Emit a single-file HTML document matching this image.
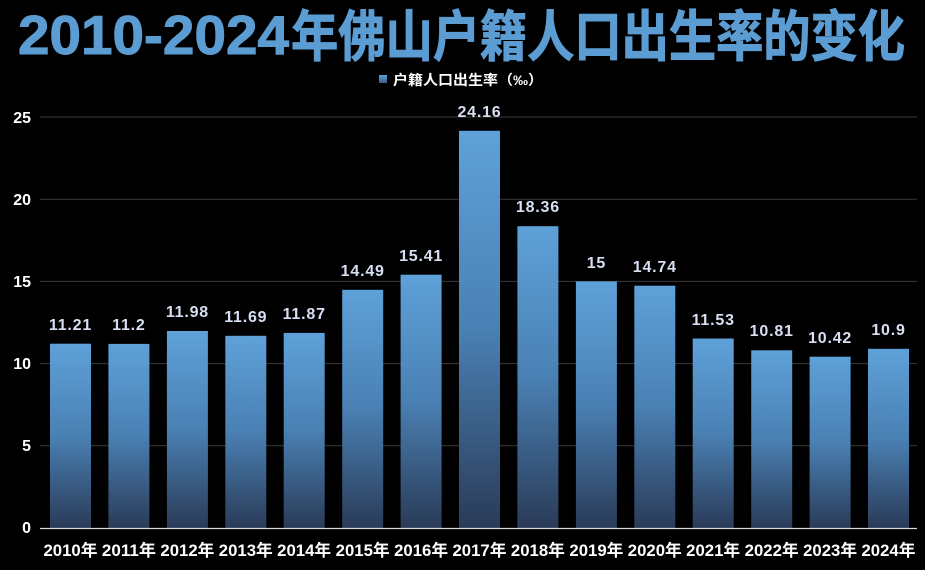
<!DOCTYPE html>
<html>
<head>
<meta charset="utf-8">
<style>
  html, body { margin: 0; padding: 0; background: #000; }
  body { width: 925px; height: 570px; overflow: hidden; }
  svg { display: block; }
  .t { font-family: "Liberation Sans", "Noto Sans CJK SC", sans-serif; font-weight: bold; }
</style>
</head>
<body>
<svg width="925" height="570" viewBox="0 0 925 570" xmlns="http://www.w3.org/2000/svg">
  <defs>
    <linearGradient id="bar" x1="0" y1="0" x2="0" y2="1">
      <stop offset="0" stop-color="#5ea1d8"/>
      <stop offset="0.5" stop-color="#4a80b3"/>
      <stop offset="1" stop-color="#2a3b58"/>
    </linearGradient>
    <linearGradient id="leg" x1="0" y1="0" x2="0" y2="1">
      <stop offset="0" stop-color="#5c9fd6"/>
      <stop offset="1" stop-color="#3a5f8a"/>
    </linearGradient>
  </defs>
  <rect width="925" height="570" fill="#000"/>

  <!-- Title -->
  <g class="t" font-size="55" fill="#5b9dd3" stroke="#5b9dd3" stroke-width="1">
    <text x="18" y="54" textLength="271" lengthAdjust="spacingAndGlyphs">2010-2024</text>
    <text x="291" y="56" textLength="614" lengthAdjust="spacingAndGlyphs">年佛山户籍人口出生率的变化</text>
  </g>

  <!-- Legend -->
  <rect x="379" y="75" width="8" height="8" fill="url(#leg)"/>
  <text class="t" x="393" y="85" font-size="14" fill="#ffffff" textLength="150" lengthAdjust="spacingAndGlyphs">户籍人口出生率（‰）</text>

  <!-- Gridlines -->
  <g stroke="#3a3a3a" stroke-width="1">
    <line x1="40" y1="445.8" x2="917" y2="445.8"/>
    <line x1="40" y1="363.6" x2="917" y2="363.6"/>
    <line x1="40" y1="281.4" x2="917" y2="281.4"/>
    <line x1="40" y1="199.2" x2="917" y2="199.2"/>
    <line x1="40" y1="117" x2="917" y2="117"/>
  </g>

  <!-- Y labels -->
  <g class="t" font-size="16" fill="#ffffff" text-anchor="end">
    <text x="31" y="533">0</text>
    <text x="31" y="451">5</text>
    <text x="31" y="369">10</text>
    <text x="31" y="287">15</text>
    <text x="31" y="205">20</text>
    <text x="31" y="123">25</text>
  </g>

  <!-- Bars -->
  <g fill="url(#bar)">
    <rect x="50.0" y="343.7" width="41" height="184.3"/>
    <rect x="108.4" y="343.9" width="41" height="184.1"/>
    <rect x="166.9" y="331.0" width="41" height="197.0"/>
    <rect x="225.3" y="335.8" width="41" height="192.2"/>
    <rect x="283.7" y="332.9" width="41" height="195.1"/>
    <rect x="342.2" y="289.8" width="41" height="238.2"/>
    <rect x="400.6" y="274.7" width="41" height="253.3"/>
    <rect x="459.0" y="130.8" width="41" height="397.2"/>
    <rect x="517.4" y="226.2" width="41" height="301.8"/>
    <rect x="575.9" y="281.4" width="41" height="246.6"/>
    <rect x="634.3" y="285.7" width="41" height="242.3"/>
    <rect x="692.7" y="338.5" width="41" height="189.5"/>
    <rect x="751.2" y="350.3" width="41" height="177.7"/>
    <rect x="809.6" y="356.7" width="41" height="171.3"/>
    <rect x="868.0" y="348.8" width="41" height="179.2"/>
  </g>

  <!-- Axis line -->
  <line x1="40" y1="528.5" x2="917" y2="528.5" stroke="#d8d8d8" stroke-width="1.2"/>

  <!-- Value labels -->
  <g class="t" font-size="16" fill="#d8dff3" text-anchor="middle" letter-spacing="0.8">
    <text x="70.5" y="330">11.21</text>
    <text x="128.9" y="330">11.2</text>
    <text x="187.4" y="317">11.98</text>
    <text x="245.8" y="322">11.69</text>
    <text x="304.2" y="319">11.87</text>
    <text x="362.7" y="276">14.49</text>
    <text x="421.1" y="261">15.41</text>
    <text x="479.5" y="117">24.16</text>
    <text x="537.9" y="212">18.36</text>
    <text x="596.4" y="268">15</text>
    <text x="654.8" y="272">14.74</text>
    <text x="713.2" y="325">11.53</text>
    <text x="771.7" y="336">10.81</text>
    <text x="830.1" y="343">10.42</text>
    <text x="888.5" y="335">10.9</text>
  </g>

  <!-- X labels -->
  <g class="t" font-size="16.5" fill="#ffffff">
    <text x="43.5" y="556" textLength="54" lengthAdjust="spacingAndGlyphs">2010年</text>
    <text x="101.9" y="556" textLength="54" lengthAdjust="spacingAndGlyphs">2011年</text>
    <text x="160.4" y="556" textLength="54" lengthAdjust="spacingAndGlyphs">2012年</text>
    <text x="218.8" y="556" textLength="54" lengthAdjust="spacingAndGlyphs">2013年</text>
    <text x="277.2" y="556" textLength="54" lengthAdjust="spacingAndGlyphs">2014年</text>
    <text x="335.7" y="556" textLength="54" lengthAdjust="spacingAndGlyphs">2015年</text>
    <text x="394.1" y="556" textLength="54" lengthAdjust="spacingAndGlyphs">2016年</text>
    <text x="452.5" y="556" textLength="54" lengthAdjust="spacingAndGlyphs">2017年</text>
    <text x="510.9" y="556" textLength="54" lengthAdjust="spacingAndGlyphs">2018年</text>
    <text x="569.4" y="556" textLength="54" lengthAdjust="spacingAndGlyphs">2019年</text>
    <text x="627.8" y="556" textLength="54" lengthAdjust="spacingAndGlyphs">2020年</text>
    <text x="686.2" y="556" textLength="54" lengthAdjust="spacingAndGlyphs">2021年</text>
    <text x="744.7" y="556" textLength="54" lengthAdjust="spacingAndGlyphs">2022年</text>
    <text x="803.1" y="556" textLength="54" lengthAdjust="spacingAndGlyphs">2023年</text>
    <text x="861.5" y="556" textLength="54" lengthAdjust="spacingAndGlyphs">2024年</text>
  </g>
</svg>
</body>
</html>
